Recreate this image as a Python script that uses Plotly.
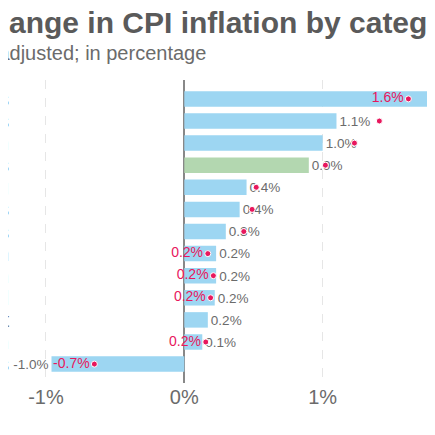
import plotly.graph_objects as go

categories = ["Airline fares", "Used cars and trucks", "Transportation", "All items", "Housing",
              "Services", "Commodities", "Recreation", "Education", "Alcohol", "Rent",
              "Communication", "Energy commodities"]
current = [2.0, 1.1, 1.0, 0.9, 0.45, 0.4, 0.3, 0.23, 0.23, 0.22, 0.17, 0.13, -0.96]
current_labels = ["", "1.1%", "1.0%", "0.9%", "0.4%", "0.4%", "0.3%", "0.2%", "0.2%", "0.2%", "0.2%", "0.1%", "-1.0%"]
previous = [1.62, 1.41, 1.23, 1.02, 0.52, 0.49, 0.43, 0.17, 0.21, 0.19, None, 0.155, -0.65]
previous_labels = ["1.6%", "", "", "", "", "", "", "0.2%", "0.2%", "0.2%", "", "0.2%", "-0.7%"]

colors = ["#9dd6f2" if c != "All items" else "#b3d7b0" for c in categories]
grey = "#6b6b6b"
red = "#e8175d"

fig = go.Figure()
fig.add_trace(go.Bar(y=categories, x=current, orientation="h", marker_color=colors,
                     marker_line_width=0, width=0.7, text=current_labels,
                     textposition="outside", textfont=dict(color=grey, size=14),
                     cliponaxis=False, hoverinfo="skip"))
fig.add_trace(go.Scatter(y=categories, x=previous, mode="markers+text",
                         marker=dict(color=red, size=6, line=dict(color="white", width=1)),
                         text=previous_labels, textposition="middle left",
                         textfont=dict(color=red, size=14), cliponaxis=False))

fig.add_annotation(text="<b>Change in CPI inflation by category</b>", xref="paper", yref="paper",
                   x=-0.1, y=1.0, yshift=76, xanchor="left", yanchor="top", showarrow=False,
                   font=dict(size=30, color="#5a5a5a"))
fig.add_annotation(text="Seasonally adjusted; in percentage", xref="paper", yref="paper",
                   x=-0.27, y=1.0, yshift=40, xanchor="left", yanchor="top", showarrow=False,
                   font=dict(size=20, color="#6b6b6b"))

fig.update_layout(
    width=435, height=435, showlegend=False, bargap=0.3,
    margin=dict(l=2, r=0, t=72, b=60),
    plot_bgcolor="white", paper_bgcolor="white",
    font=dict(family="Liberation Sans, Arial", color=grey),
    xaxis=dict(range=[-1.26, 1.87], tickvals=[-1, 0, 1], ticktext=["-1%", "0%", "1%"],
               tickfont=dict(size=20, color=grey), showgrid=True, gridcolor="#e6e6e6",
               griddash="dash", zeroline=True, zerolinecolor="#888888", zerolinewidth=1.5,
               fixedrange=True, automargin=False),
    yaxis=dict(autorange="reversed", tickfont=dict(size=20, color=grey), automargin=False,
               tickmode="array", tickvals=categories, ticktext=categories,
               ticks="", showgrid=False, range=[12.6, -0.6]),
)
fig.write_html("out.html")
